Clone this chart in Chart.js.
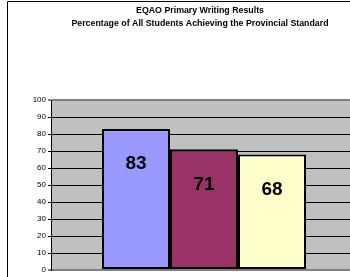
<!DOCTYPE html>
<html>
<head>
<meta charset="utf-8">
<script src="https://cdn.jsdelivr.net/npm/chart.js@4/dist/chart.umd.min.js"></script>
<style>
  html, body { margin: 0; padding: 0; background: #fff; overflow: hidden; }
  #wrap { position: absolute; left: 0; top: 0; width: 400px; height: 277px; }
</style>
</head>
<body>
<div id="wrap"><canvas id="myChart" width="400" height="277"></canvas></div>
<script>
// chart values
const titleLines = ['EQAO Primary Writing Results', 'Percentage of All Students Achieving the Provincial Standard']
const categories = ['All Students']
const seriesNames = ['Series 1', 'Series 2', 'Series 3']
const seriesValues = [83, 71, 68]
const barColors = ['#9999FF', '#993366', '#FFFFCC']
const yTicks = [0, 10, 20, 30, 40, 50, 60, 70, 80, 90, 100]

// grey plot background + outer frame line + title (centred on the whole chart object)
const backdrop = {
    id: 'backdrop',
    beforeDraw(chart) {
        const c = chart.ctx, a = chart.chartArea
        c.save()
        c.fillStyle = '#C0C0C0'
        c.fillRect(a.left, a.top, a.right - a.left, a.bottom - a.top)
        c.strokeStyle = '#000'
        c.lineWidth = 1
        c.beginPath()
        c.moveTo(7.5, chart.height)
        c.lineTo(7.5, 1.5)
        c.lineTo(chart.width, 1.5)
        c.stroke()
        c.font = 'bold 8.8px "Liberation Sans", Arial, sans-serif'
        c.fillStyle = '#000'
        c.textAlign = 'center'
        c.textBaseline = 'middle'
        titleLines.forEach((t, i) => c.fillText(t, chart.width / 2, 11 + i * 13))
        c.restore()
    }
}

// numbers inside the bars
const valueLabels = {
    id: 'valueLabels',
    afterDatasetsDraw(chart) {
        const c = chart.ctx
        c.save()
        c.font = 'bold 19px "Liberation Sans", Arial, sans-serif'
        c.fillStyle = '#000'
        c.textAlign = 'center'
        c.textBaseline = 'middle'
        chart.data.datasets.forEach((ds, i) => {
            const bar = chart.getDatasetMeta(i).data[0]
            c.fillText(ds.data[0], bar.x, bar.y + 35)
        })
        c.restore()
    }
}

const ctx = document.getElementById('myChart').getContext('2d')
window.bar = new Chart(ctx, {
    type: 'bar',
    data: {
        labels: categories,
        datasets: seriesValues.map((v, i) => ({
            label: seriesNames[i],
            data: [v],
            backgroundColor: barColors[i],
            borderColor: '#000',
            borderWidth: 2,
            borderSkipped: false
        }))
    },
    options: {
        responsive: false,
        animation: false,
        layout: { padding: { left: 0, right: 43, top: 100, bottom: 7 } },
        datasets: { bar: { categoryPercentage: 2 / 3, barPercentage: 1 } },
        plugins: {
            legend: { display: false },
            tooltip: { enabled: false },
            title: { display: false }
        },
        scales: {
            x: { display: false },
            y: {
                min: 0,
                max: 100,
                afterFit(scale) { scale.width = 51 },
                afterBuildTicks(scale) { scale.ticks = yTicks.map(v => ({ value: v })) },
                border: { display: true, color: '#000', width: 1 },
                grid: {
                    color: c => (c.tick && (c.tick.value === 100 || c.tick.value === 0)) ? '#808080' : '#000',
                    lineWidth: c => (c.tick && (c.tick.value === 100 || c.tick.value === 0)) ? 2 : 1,
                    tickColor: '#000',
                    tickLength: 3,
                    tickWidth: 1
                },
                ticks: {
                    color: '#000',
                    padding: 2,
                    font: { family: '"Liberation Sans", Arial, sans-serif', size: 8 }
                }
            }
        }
    },
    plugins: [backdrop, valueLabels]
})
</script>
</body>
</html>
